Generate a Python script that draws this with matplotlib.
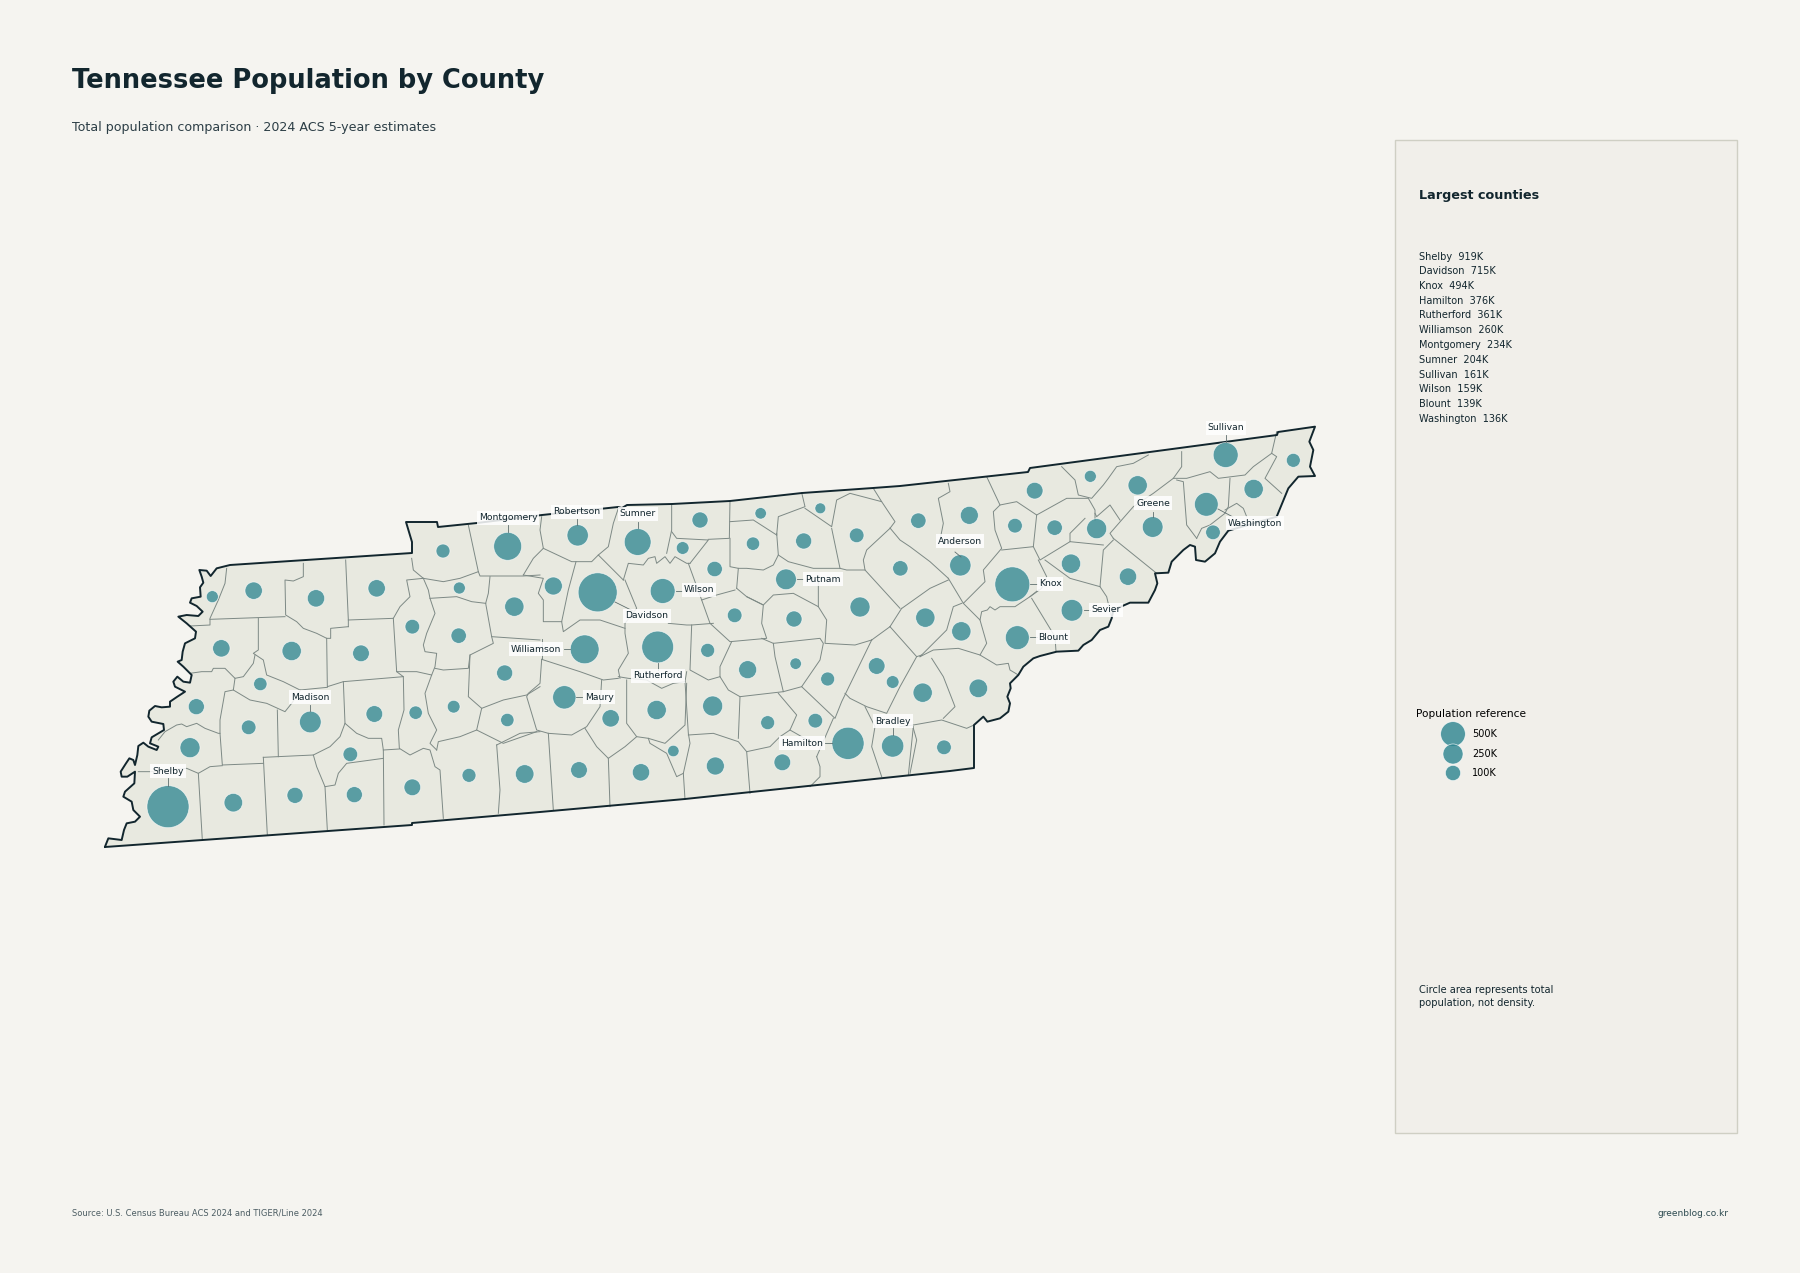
import numpy as np
import matplotlib
matplotlib.use("Agg")
import matplotlib.pyplot as plt

# map, everything in image pixels
BG = "#f5f4f0"
LAND = "#e8e9e0"
INK = "#12262e"
TEAL = "#2b848f"

west_origin = (90, 500)
mid_origin = (500, 480)
east_origin = (900, 410)

south_edge = [(105,847),(412,825),(412,823),(540,812),(685,799),(950,771),(974,768)]
north_edge = [
    (1278,432),(1277,435),(1030,468),(1028,472),(900,486),(873,488),(802,493),(730,501),(672,504),(627,505),
    (622,508),(618,507),(542,515),(477,523),(438,527),(437,522),(406,522),(412,542),(412,553),(230,565),
]
# these two are in 3x crop coordinates
east_edge = [
    (222,945),(250,920),(262,935),(300,925),(325,905),(330,880),(322,860),(332,835),(330,820),(355,795),(370,770),
    (400,745),(420,738),(470,725),(535,722),(550,705),(575,690),(600,660),(625,650),(635,625),(640,600),(690,578),
    (745,578),(765,540),(772,520),(765,490),(805,488),(815,455),(850,420),(870,405),(885,410),(888,450),(915,455),
    (945,430),(960,395),(985,362),(1130,320),(1165,235),(1195,200),(1245,198),(1230,170),(1240,120),(1228,95),(1245,50),
]
river_edge = [
    (380,205),(372,215),(362,228),(350,212),(328,210),(335,230),(340,248),(330,262),(332,290),(305,295),(300,308),
    (320,318),(338,335),(325,348),(290,345),(265,350),(290,370),(318,395),(315,415),(285,430),(278,455),(275,480),
    (263,485),(280,500),(305,525),(300,548),(280,545),(262,530),(250,545),(255,560),(285,575),(262,590),(240,605),
    (240,620),(215,622),(195,618),(178,632),(175,650),(185,665),(220,672),(222,690),(205,700),(185,712),(180,730),
    (205,740),(200,750),(175,740),(160,728),(145,738),(142,765),(135,795),(130,780),(118,775),(108,790),(92,815),
    (95,830),(112,830),(135,815),(133,850),(105,875),(100,890),(125,905),(130,930),(150,950),(135,965),(110,970),
    (102,990),(95,1020),(55,1015),(45,1040),
]

# county lines, in 3x crop coordinates of each part of the state
west_lines = [
    [(410,205),(405,250),(385,300),(360,355),(360,375),(300,378)],
    [(360,358),(585,350)],
    [(640,190),(640,230),(610,243),(585,240),(587,345),(620,365),(640,385),(680,400),(710,415),(722,415),(722,385),(775,380)],
    [(767,180),(775,360),(775,380)],
    [(775,360),(910,355),(930,320),(960,290),(950,240),(1000,235)],
    [(965,175),(970,210),(1000,235),(1015,270),(1020,295),(1035,340),(1010,400),(1000,435),(1005,455),(1040,460),(1035,500),(1025,525)],
    [(1000,235),(1060,245),(1110,235),(1165,215)],
    [(1135,75),(1165,215),(1170,228),(1300,228),(1350,225)],
    [(1020,295),(1100,290),(1145,305),(1187,310)],
    [(1200,230),(1195,280),(1187,310),(1205,410),(1210,430),(1140,465),(1135,505),(1060,510),(1035,505)],
    [(1205,410),(1350,420)],
    [(910,355),(920,515),(980,515),(1025,525),(1005,580),(1015,640),(1040,690),(1020,730),(1040,750)],
    [(1140,465),(1135,590),(1175,625),(1240,600),(1310,585),(1350,560)],
    [(1175,625),(1160,690),(1240,730),(1340,695)],
    [(710,415),(712,560),(760,545),(940,530),(920,515)],
    [(505,355),(505,450),(490,460),(520,480),(530,525),(580,545),(630,570),(712,562)],
    [(300,520),(335,515),(365,515),(370,505),(405,505),(435,535),(460,530),(490,490),(495,465)],
    [(435,535),(430,570),(480,600),(530,610),(585,635),(605,610),(632,570)],
    [(205,720),(225,695),(260,675),(275,672),(290,680),(320,670),(345,685),(385,700),(390,700)],
    [(430,570),(405,575),(390,660),(390,700),(397,795),(520,790)],
    [(562,630),(565,770)],
    [(760,545),(765,670),(750,710),(720,740),(670,765)],
    [(145,815),(185,815),(290,805),(325,820),(360,800),(397,797)],
    [(325,820),(337,1020)],
    [(520,772),(532,1005)],
    [(520,772),(670,765),(680,800),(705,860),(735,855),(745,820),(770,790),(880,775)],
    [(765,670),(800,700),(835,715),(875,715),(880,750),(882,975)],
    [(705,860),(712,990)],
    [(940,530),(942,630),(925,690),(928,745),(960,765),(1000,745),(1020,750),(1035,800),(1050,810),(1060,955)],
    [(880,750),(928,747)],
    [(1040,750),(1045,725),(1110,710),(1160,690)],
    [(1220,735),(1230,870),(1225,940)],
    [(1220,735),(1290,700),(1350,695)],
]
mid_lines = [
    [(125,110),(120,150),(130,205),(100,235),(70,285)],
    [(130,205),(215,245),(275,245),(295,225),(330,260),(370,300)],
    [(355,85),(340,130),(325,200),(295,225)],
    [(370,300),(385,250),(430,255),(445,235),(465,230),(470,250),(495,230),(510,250),(525,230),(560,250),(570,250)],
    [(515,72),(515,150),(500,220)],
    [(515,155),(530,175),(625,180),(570,250)],
    [(690,62),(688,175),(625,178)],
    [(70,285),(130,295),(115,340),(130,360),(130,425),(185,425)],
    [(228,245),(205,330),(185,425),(190,455),(240,420),(300,420),(375,445)],
    [(125,478),(125,538)],
    [(375,300),(410,385),(375,430),(375,460),(385,520),(355,570),(360,595)],
    [(505,430),(560,435),(575,435),(640,430)],
    [(565,250),(605,360),(630,430)],
    [(690,175),(690,260),(715,265),(710,325)],
    [(605,360),(650,345),(705,330)],
    [(710,325),(740,350),(790,375),(785,430),(800,475),(690,485),(630,430)],
    [(575,435),(570,570),(625,600),(660,590),(660,560),(695,485)],
    [(355,590),(385,595),(440,600),(485,625),(520,610),(555,605),(560,575)],
    [(380,600),(380,730),(410,770),(445,775),(495,790),(555,735),(560,610)],
    [(555,605),(565,760),(570,790),(550,880),(555,958)],
    [(660,590),(685,630),(720,650),(850,635),(825,530),(820,490)],
    [(785,475),(820,490),(960,475),(970,490),(960,540),(905,620),(850,635)],
    [(720,650),(715,775)],
    [(835,640),(890,705),(870,750),(840,770),(810,800),(740,815)],
    [(565,765),(640,760),(715,785),(740,815),(750,940)],
    [(905,620),(1005,715),(1025,665),(1115,480)],
    [(950,830),(1000,715)],
    [(950,830),(960,860),(960,890),(930,920)],
    [(870,750),(940,790)],
    [(445,775),(450,790),(500,820),(530,890),(550,880)],
    [(325,835),(330,980)],
    [(255,745),(290,800),(325,835),(375,800),(410,770)],
    [(125,538),(120,610),(85,640),(80,650),(110,750),(145,760),(215,765),(260,740),(300,680),(305,600)],
    [(125,538),(240,575),(310,600),(355,595)],
    [(145,760),(160,990)],
    [(1095,680),(1125,740),(1115,800),(1145,890)],
    [(1230,880),(1250,780),(1240,745)],
    [(1035,640),(1050,655),(1100,680),(1160,700),(1200,620),(1250,530)],
    [(1115,480),(1170,440)],
    [(955,300),(955,380),(980,420),(975,490),(1065,495),(1115,480)],
    [(830,160),(835,225),(820,255),(790,270),(740,265),(715,265)],
    [(835,225),(865,245),(940,265),(1020,265),(1040,270),(1095,270)],
    [(740,350),(790,375),(820,345),(880,340),(955,380)],
    [(690,125),(760,120),(830,165)],
    [(905,38),(915,80),(835,110),(830,165)],
    [(915,85),(995,140),(1010,60),(1050,40),(1145,65),(1120,25)],
    [(995,145),(1020,265)],
    [(1145,65),(1185,125),(1170,145),(1100,210),(1090,240),(1095,270),(1200,385)],
    [(1170,440),(1205,385)],
    [(1170,440),(1250,530),(1265,525)],
]
east_lines = [
    [(145,220),(150,245),(115,265),(130,340),(120,390)],
    [(-30,354),(0,390),(30,410),(90,455),(145,505)],
    [(260,200),(300,285),(280,305),(285,360),(305,415),(250,480),(255,515),(190,580),(145,505)],
    [(300,285),(350,275),(410,315),(400,410),(305,420)],
    [(410,315),(500,265),(565,265),(585,300),(585,330)],
    [(485,170),(525,210),(535,255),(575,265),(610,225),(625,205),(650,170),(700,160),(745,135)],
    [(845,125),(845,170),(820,205),(760,250),(700,290),(665,330),(630,370),(640,385)],
    [(585,310),(590,320),(630,285),(660,330)],
    [(555,325),(510,370),(510,395),(610,405)],
    [(400,410),(420,450),(510,395)],
    [(435,450),(510,505),(600,530),(610,420),(640,390)],
    [(600,530),(620,560),(635,625)],
    [(640,385),(770,490)],
    [(830,210),(850,215),(860,345),(890,385)],
    [(820,205),(860,205),(930,185),(955,205),(1035,195),(1060,170),(1115,130)],
    [(1130,65),(1115,130),(1130,140),(1095,205),(1145,250)],
    [(990,205),(985,290),(975,310),(930,345),(905,355),(890,385)],
    [(975,300),(1010,280),(1030,295),(1040,320)],
    [(190,580),(240,630),(245,605),(262,600),(270,590),(285,600),(300,590),(345,590),(390,560),(415,540)],
    [(415,450),(440,500),(425,535),(390,560)],
    [(395,565),(465,680),(468,725)],
    [(240,630),(260,700),(240,735),(290,765),(325,760),(330,780),(355,795)],
    [(185,580),(160,590),(140,660),(100,700),(60,740)],
    [(60,740),(100,720),(175,715),(240,735)],
    [(95,745),(130,800),(165,890),(130,925)],
    [(0,950),(40,945),(125,930),(200,955),(222,945)],
    [(40,950),(25,1095)],
    [(7,594),(90,535),(145,510)],
]

# bubble centres in the same crop coordinates, population in thousands
west_x = [367,491,678,860,1059,1253,1108,967,1106,1273,394,605,813,511,319,476,661,853,977,1091,1244,1252,300,234,430,615,793,781,967,1137,1304]
west_y = [290,272,295,265,153,139,264,380,407,320,445,453,460,552,620,682,666,642,638,620,519,660,743,920,908,886,884,763,862,826,822]
west_pop = [14,48,48,48,23,234,14,27,32,68,48,68,42,20,37,27,100,42,20,17,37,20,77,919,60,37,37,27,42,23,60]

mid_x = [160,233,413,293,488,254,473,548,600,644,782,961,759,911,1070,1255,858,1201,704,882,1080,1276,623,743,887,983,1130,1178,1268,193,332,470,638,803,946,1044,1178,847,646,520,423,237]
mid_y = [318,166,186,337,333,508,501,204,120,267,100,85,191,183,166,122,298,265,406,417,381,413,511,569,551,597,558,606,638,652,715,690,678,728,722,790,798,847,858,813,877,870]
mid_pop = [54,95,204,715,159,260,361,17,37,32,12,10,20,37,27,32,86,32,27,37,77,68,23,54,12,23,42,17,68,128,48,68,77,23,27,376,110,42,54,12,48,42]

east_x = [404,571,713,977,1180,1061,919,939,758,345,464,590,181,513,684,337,516,352,184,235,132,208]
east_y = [242,199,226,135,151,237,283,367,351,347,353,356,466,461,500,523,601,683,664,835,1012,316]
east_pop = [42,14,68,161,23,68,136,27,86,27,32,77,95,68,48,494,100,139,68,60,27,54]

label_names = ["Shelby","Madison","Montgomery","Robertson","Sumner","Williamson","Davidson","Wilson","Putnam","Rutherford",
               "Maury","Hamilton","Bradley","Sullivan","Greene","Washington","Anderson","Knox","Sevier","Blount"]
label_x = [168,310,508,577,638,536,647,699,823,658,599,802,893,1226,1153,1255,960,1050,1106,1053]
label_y = [771,697,518,512,514,649,616,590,579,676,697,743,721,428,503,523,541,584,610,637]
leaders = [
    [(168,778),(168,786)],[(310,705),(310,711)],[(508,525),(508,532)],[(577,519),(577,525)],[(638,522),(638,528)],
    [(564,649),(570,649)],[(615,602),(633,611)],[(676,591),(682,591)],[(797,579),(803,579)],[(658,663),(658,670)],
    [(576,697),(582,697)],[(825,743),(832,743)],[(893,728),(893,735)],[(1226,435),(1226,442)],[(1153,512),(1153,517)],
    [(1218,509),(1233,517)],[(955,552),(961,557)],[(1030,584),(1037,584)],[(1084,610),(1090,610)],[(1030,637),(1037,637)],
]

top_names = ["Shelby","Davidson","Knox","Hamilton","Rutherford","Williamson","Montgomery","Sumner","Sullivan","Wilson","Blount","Washington"]
top_values = [919,715,494,376,361,260,234,204,161,159,139,136]

ref_values = [500,250,100]
ref_labels = ["500K","250K","100K"]


def uncrop(pts, origin):
    return [(origin[0] + x / 3, origin[1] + y / 3) for x, y in pts]


def bubble_area(pop, k):
    # sizes in the picture go roughly with pop**0.3, not with the area claimed in the note
    return (k * np.array(pop, dtype=float) ** 0.3 * 0.72) ** 2


fig = plt.figure(figsize=(18, 12.73), dpi=100, facecolor=BG)
ax = fig.add_axes([0, 0, 1, 1])
ax.set_xlim(0, 1800)
ax.set_ylim(1273, 0)
ax.axis("off")

outline = south_edge + uncrop(east_edge, east_origin) + north_edge + uncrop(river_edge, west_origin)
ox, oy = zip(*outline)
ax.fill(ox, oy, color=LAND, lw=0, zorder=1)

for lines, origin in [(west_lines, west_origin), (mid_lines, mid_origin), (east_lines, east_origin)]:
    for line in lines:
        xs, ys = zip(*uncrop(line, origin))
        ax.plot(xs, ys, color="#7d8985", lw=0.7, zorder=2, solid_joinstyle="round")

ax.plot(ox + (ox[0],), oy + (oy[0],), color=INK, lw=1.4, zorder=3, solid_joinstyle="round")

for bx, by, bpop, origin in [(west_x, west_y, west_pop, west_origin), (mid_x, mid_y, mid_pop, mid_origin), (east_x, east_y, east_pop, east_origin)]:
    cx = origin[0] + np.array(bx) / 3
    cy = origin[1] + np.array(by) / 3
    ax.scatter(cx, cy, s=bubble_area(bpop, 5.43), color=TEAL, alpha=0.75, edgecolors="white", linewidths=0.5, zorder=4)

for seg in leaders:
    xs, ys = zip(*seg)
    ax.plot(xs, ys, color="#5e6e6e", lw=0.6, zorder=5)
for name, x, y in zip(label_names, label_x, label_y):
    ax.text(x, y, name, fontsize=6.7, color=INK, ha="center", va="center", zorder=6,
            bbox=dict(facecolor="white", edgecolor="none", alpha=0.85, pad=1.5))

# header and footer
ax.text(72, 81, "Tennessee Population by County", fontsize=18.5, fontweight="bold", color=INK, va="center")
ax.text(72, 127, "Total population comparison · 2024 ACS 5-year estimates", fontsize=9.1, color="#2c3e46", va="center")
ax.text(72, 1213, "Source: U.S. Census Bureau ACS 2024 and TIGER/Line 2024", fontsize=6, color="#4c5d63", va="center")
ax.text(1728, 1213, "greenblog.co.kr", fontsize=6.5, color="#2c4a50", va="center", ha="right")

# side panel
ax.fill([1395, 1737, 1737, 1395], [140, 140, 1133, 1133], facecolor="#f1efea", edgecolor="#cfcfc4", lw=1, zorder=1)
ax.text(1419, 195, "Largest counties", fontsize=9.15, fontweight="bold", color=INK, va="center")
for i, (name, val) in enumerate(zip(top_names, top_values)):
    ax.text(1419, 256.5 + i * 14.75, f"{name}  {val}K", fontsize=7, color=INK, va="center")

ax.text(1416, 714, "Population reference", fontsize=7.55, color="black", va="center")
ref_y = [734, 754, 773]
ax.scatter([1453] * 3, ref_y, s=bubble_area(ref_values, 3.83), color=TEAL, alpha=0.8, edgecolors="white", linewidths=0.5, zorder=4)
for y, lab in zip(ref_y, ref_labels):
    ax.text(1472, y, lab, fontsize=7, color="black", va="center")

ax.text(1419, 990, "Circle area represents total", fontsize=7.1, color=INK, va="center")
ax.text(1419, 1003, "population, not density.", fontsize=7.1, color=INK, va="center")

fig.savefig("out.png", dpi=100, facecolor=BG)
